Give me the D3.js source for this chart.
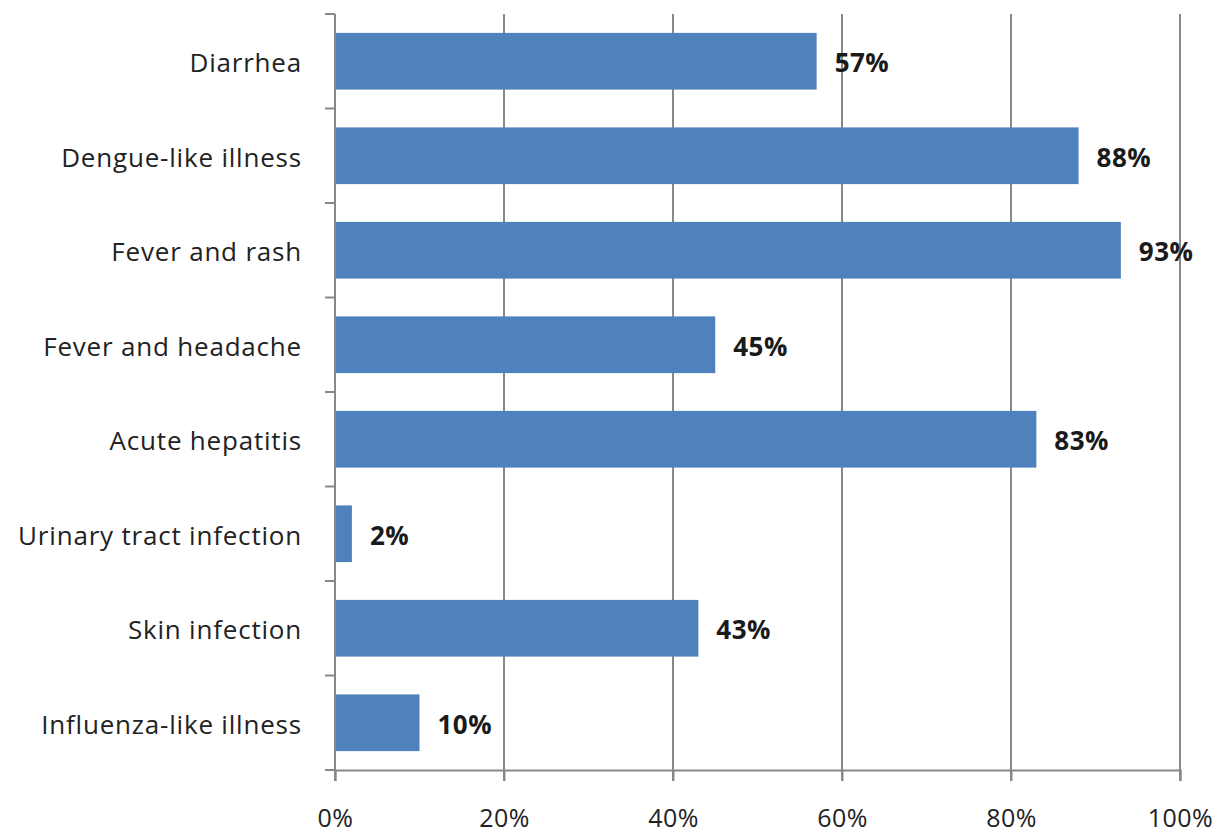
<!DOCTYPE html>
<html>
<head>
<meta charset="utf-8">
<script src="https://cdn.jsdelivr.net/npm/d3@7"></script>
<style>
  html, body { margin: 0; padding: 0; background: #fff; overflow: hidden; }
  svg { display: block; }
  svg text { font-family: "Open Sans", Lato, sans-serif; }
</style>
</head>
<body>
<svg id="chart" width="1225" height="837"></svg>
<script>
const categories = [
  "Diarrhea", "Dengue-like illness", "Fever and rash", "Fever and headache",
  "Acute hepatitis", "Urinary tract infection", "Skin infection", "Influenza-like illness"
];
const values = [57, 88, 93, 45, 83, 2, 43, 10];
const xTicks = [0, 20, 40, 60, 80, 100];

const svg = d3.select("#chart");
const margin = { top: 14, right: 45, bottom: 67, left: 335 };
const width = +svg.attr("width"), height = +svg.attr("height");
const innerWidth = width - margin.left - margin.right;
const innerHeight = height - margin.top - margin.bottom;

const g = svg.append("g").attr("transform", `translate(${margin.left},${margin.top})`);

const x = d3.scaleLinear().domain([0, 100]).range([0, innerWidth]);
const y = d3.scaleBand().domain(categories).range([0, innerHeight]).paddingInner(0.4).paddingOuter(0.2);

// vertical gridlines
g.selectAll("line.grid")
  .data(xTicks.slice(1))
  .join("line")
  .attr("class", "grid")
  .attr("x1", d => x(d)).attr("x2", d => x(d))
  .attr("y1", 0).attr("y2", innerHeight + 11)
  .attr("stroke", "#888").attr("stroke-width", 2);

// bars
g.selectAll("rect.bar")
  .data(values)
  .join("rect")
  .attr("class", "bar")
  .attr("x", 1)
  .attr("y", (d, i) => y(categories[i]))
  .attr("width", d => x(d) - 1)
  .attr("height", y.bandwidth())
  .attr("fill", "#4F81BD");

// value labels
g.selectAll("text.val")
  .data(values)
  .join("text")
  .attr("class", "val")
  .attr("x", d => x(d) + 18)
  .attr("y", (d, i) => y(categories[i]) + y.bandwidth() / 2)
  .attr("dy", "0.42em")
  .style("font-size", "26px")
  .style("font-weight", "bold")
  .style("letter-spacing", "0.5px")
  .attr("fill", "#1a1a1a")
  .text(d => d + "%");

// x axis
const xAxis = g.append("g")
  .attr("transform", `translate(0,${innerHeight})`)
  .call(d3.axisBottom(x).tickValues(xTicks).tickFormat(d => d + "%").tickSize(11));
xAxis.select(".domain").attr("stroke", "#888").attr("stroke-width", 2);
xAxis.selectAll(".tick line").attr("stroke", "#888").attr("stroke-width", 2);
xAxis.selectAll(".tick text")
  .attr("y", 57).attr("dy", null)
  .style("font-size", "25px").style("letter-spacing", "0.5px").attr("fill", "#222");

// y axis with ticks at band boundaries
const bounds = d3.range(categories.length + 1).map(i => i * innerHeight / categories.length);
g.append("line")
  .attr("x1", 0).attr("x2", 0).attr("y1", 0).attr("y2", innerHeight + 11)
  .attr("stroke", "#888").attr("stroke-width", 2);
g.selectAll("line.ytick")
  .data(bounds)
  .join("line")
  .attr("class", "ytick")
  .attr("x1", -10).attr("x2", 0)
  .attr("y1", d => d).attr("y2", d => d)
  .attr("stroke", "#888").attr("stroke-width", 2);
g.selectAll("text.cat")
  .data(categories)
  .join("text")
  .attr("class", "cat")
  .attr("x", -33)
  .attr("y", d => y(d) + y.bandwidth() / 2)
  .attr("dy", "0.42em")
  .attr("text-anchor", "end")
  .style("font-size", "26px")
  .style("letter-spacing", "0.8px")
  .attr("fill", "#222")
  .text(d => d);
</script>
</body>
</html>
